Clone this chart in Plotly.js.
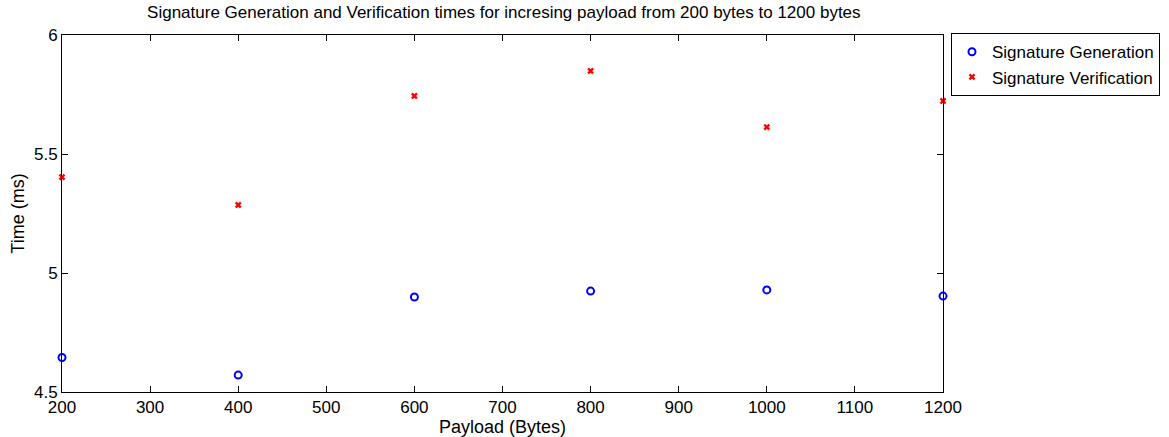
<!DOCTYPE html>
<html>
<head>
<meta charset="utf-8">
<script src="https://cdn.plot.ly/plotly-3.0.1.min.js"></script>
<style>html,body{margin:0;padding:0;background:#fff;}#chart{width:1169px;height:437px;}</style>
</head>
<body>
<div id="chart"></div>
<script>
const payload = [200, 400, 600, 800, 1000, 1200];
const sigGeneration = [4.645, 4.571, 4.899, 4.924, 4.929, 4.903];
const sigVerification = [5.403, 5.286, 5.744, 5.849, 5.613, 5.723];
const xTicks = [200, 300, 400, 500, 600, 700, 800, 900, 1000, 1100, 1200];
const yTicks = [4.5, 5, 5.5, 6];

const FONT = 'Liberation Sans, Arial, Helvetica, sans-serif';

const traces = [
  {
    x: payload, y: sigGeneration, name: 'Signature Generation',
    type: 'scatter', mode: 'markers', cliponaxis: false,
    marker: {symbol: 'circle-open', size: 7, color: '#0000ff', line: {width: 2, color: '#0000ff'}}
  },
  {
    x: payload, y: sigVerification, name: 'Signature Verification',
    type: 'scatter', mode: 'markers', cliponaxis: false,
    marker: {symbol: 'x', size: 6, color: '#ff0000', line: {width: 0}}
  }
];

const axisCommon = {
  showline: true, linecolor: '#000', linewidth: 1, mirror: 'ticks',
  ticks: 'inside', ticklen: 6, tickcolor: '#000', tickwidth: 1,
  showgrid: false, zeroline: false,
  tickfont: {family: FONT, size: 17, color: '#000'}
};

const layout = {
  width: 1169, height: 437,
  margin: {l: 62, r: 226, t: 35, b: 45},
  paper_bgcolor: '#fff', plot_bgcolor: '#fff',
  font: {family: FONT, color: '#000'},
  title: {text: 'Signature Generation and Verification times for incresing payload from 200 bytes to 1200 bytes',
          font: {family: FONT, size: 17, color: '#000'}, x: 0.431, xanchor: 'center', y: 0.972, yanchor: 'middle'},
  xaxis: Object.assign({}, axisCommon, {
    range: [200, 1200], tickvals: xTicks, ticktext: xTicks.map(String),
    title: {text: 'Payload (Bytes)', font: {family: FONT, size: 18, color: '#000'}, standoff: 0}
  }),
  yaxis: Object.assign({}, axisCommon, {
    range: [4.5, 6], tickvals: yTicks, ticktext: yTicks.map(String),
    title: {text: 'Time (ms)', font: {family: FONT, size: 18, color: '#000'}, standoff: 4}
  }),
  showlegend: true,
  legend: {xref: 'container', yref: 'container', x: 0.8135, y: 0.924, xanchor: 'left', yanchor: 'top',
           bordercolor: '#000', borderwidth: 1, bgcolor: '#fff',
           font: {family: FONT, size: 17, color: '#000'},
           tracegroupgap: 0, itemwidth: 30}
};

Plotly.newPlot('chart', traces, layout, {displayModeBar: false, staticPlot: true});
</script>
</body>
</html>
